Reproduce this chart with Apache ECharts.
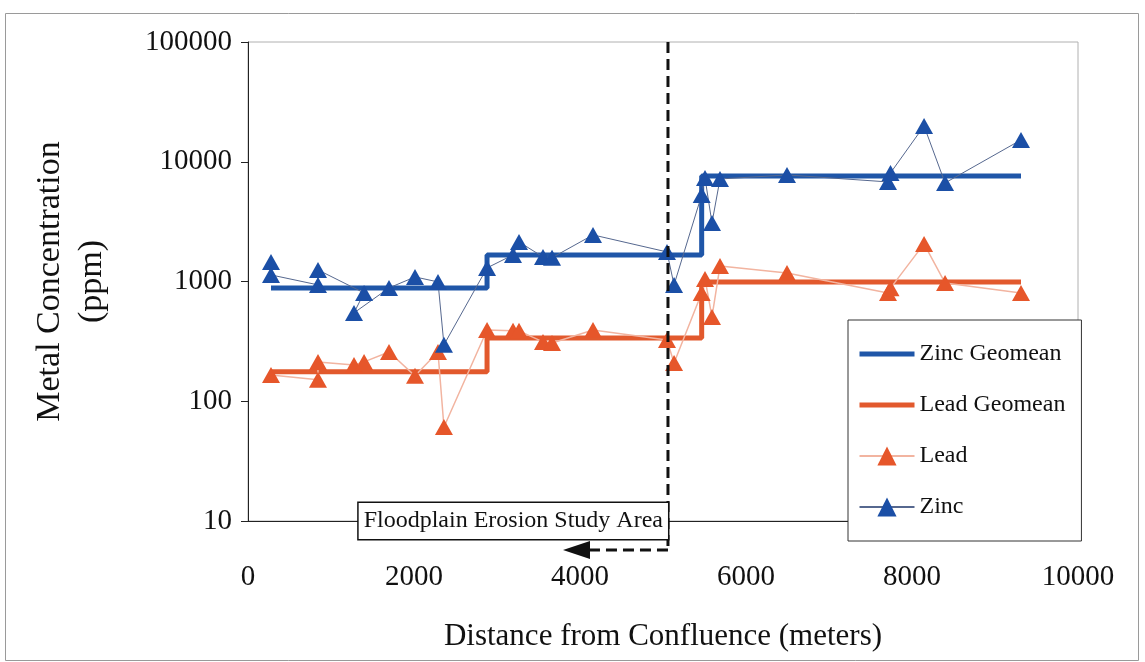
<!DOCTYPE html>
<html><head><meta charset="utf-8">
<script src="https://cdn.jsdelivr.net/npm/echarts@6/dist/echarts.min.js"></script>
<style>html,body{margin:0;padding:0;background:#fff}#c{width:1145px;height:662px}</style>
</head><body><div id="c"></div>
<script>
// ---- data (distance in meters, concentration in ppm) ----
const zincDist = [277, 277, 843, 843, 1398, 1277, 1699, 2012, 2289, 2361, 2880, 3193, 3265, 3554, 3663, 4157, 5048, 5133, 5466, 5506, 5590, 5687, 6494, 7711, 7741, 8145, 8398, 9313];
const zincPpm  = [1458, 1135, 937, 1250, 803, 547, 884, 1092, 992, 296, 1299, 1667, 2141, 1605, 1580, 2449, 1766, 937, 5284, 7323, 3084, 7183, 7760, 6783, 8064, 19900, 6653, 15205];
const leadDist = [277, 843, 843, 1277, 1398, 1699, 2012, 2289, 2361, 2880, 3193, 3265, 3554, 3663, 4157, 5048, 5133, 5466, 5506, 5590, 5687, 6494, 7711, 7741, 8145, 8398, 9313];
const leadPpm  = [166, 151, 213, 201, 213, 258, 163, 258, 61, 394, 387, 387, 313, 306, 394, 325, 209, 803, 1051, 506, 1350, 1180, 800, 880, 2060, 973, 803];
const geoDist    = [277, 2880, 2880, 5466, 5466, 9313];
const zincGeoPpm = [884, 884, 1667, 1667, 7610, 7610];
const leadGeoPpm = [176, 176, 338, 338, 992, 992];
const studyBoundary = 5060;
const xTicks = [0, 2000, 4000, 6000, 8000, 10000];
const yTickLabels = ['10', '100', '1000', '10000', '100000'];
const seriesNames = ['Zinc Geomean', 'Lead Geomean', 'Lead', 'Zinc'];
const annotationText = 'Floodplain Erosion Study Area';

const pair = (xs, ys) => xs.map((x, i) => [x, ys[i]]);
const FONT = '"Liberation Serif", "Times New Roman", serif';
const ZINC_GEO = '#1f56a8', LEAD_GEO = '#e2592d';

const chart = echarts.init(document.getElementById('c'), null, {renderer: 'canvas'});
chart.setOption({
  animation: false,
  backgroundColor: '#fff',
  grid: {left: 248, right: 67, top: 42, bottom: 141, show: true, borderColor: '#b0b0b0', borderWidth: 1},
  xAxis: {
    type: 'value', min: xTicks[0], max: xTicks[xTicks.length - 1], interval: 2000,
    axisLine: {onZero: false, lineStyle: {color: '#222', width: 1}},
    axisTick: {show: false},
    splitLine: {show: false},
    axisLabel: {margin: 42, color: '#111', fontFamily: FONT, fontSize: 29, formatter: v => String(v)},
    name: 'Distance from Confluence (meters)', nameLocation: 'middle', nameGap: 100,
    nameTextStyle: {color: '#111', fontFamily: FONT, fontSize: 31}
  },
  yAxis: {
    type: 'log', logBase: 10, min: 10, max: 100000,
    axisLine: {show: true, lineStyle: {color: '#222', width: 1}},
    axisTick: {show: true, length: 7, lineStyle: {color: '#222'}},
    minorTick: {show: false},
    splitLine: {show: false},
    axisLabel: {margin: 16, color: '#111', fontFamily: FONT, fontSize: 29,
      formatter: v => yTickLabels[Math.round(Math.log10(v)) - 1] || ''},
    name: 'Metal Concentration\n(ppm)', nameLocation: 'middle', nameRotate: 90, nameGap: 135,
    nameTextStyle: {color: '#111', fontFamily: FONT, fontSize: 34, lineHeight: 42}
  },
  legend: {
    data: [
      {name: seriesNames[0], itemStyle: {opacity: 0}, lineStyle: {width: 5, color: ZINC_GEO}},
      {name: seriesNames[1], itemStyle: {opacity: 0}, lineStyle: {width: 5, color: LEAD_GEO}},
      {name: seriesNames[2]},
      {name: seriesNames[3]}
    ],
    orient: 'vertical', left: 848, top: 320,
    itemWidth: 55, itemHeight: 24, itemGap: 27,
    padding: [22, 16, 22, 9],
    backgroundColor: '#fff', borderColor: '#333', borderWidth: 1, borderRadius: 0,
    textStyle: {color: '#111', fontFamily: FONT, fontSize: 24},
    z: 20
  },
  series: [
    {name: seriesNames[0], type: 'line', data: pair(geoDist, zincGeoPpm), symbol: 'none',
     lineStyle: {color: ZINC_GEO, width: 5}, itemStyle: {color: ZINC_GEO}, z: 2},
    {name: seriesNames[1], type: 'line', data: pair(geoDist, leadGeoPpm), symbol: 'none',
     lineStyle: {color: LEAD_GEO, width: 5}, itemStyle: {color: LEAD_GEO}, z: 2},
    {name: seriesNames[2], type: 'line', data: pair(leadDist, leadPpm), symbol: 'triangle', symbolSize: [18, 16],
     lineStyle: {color: '#f2b4a0', width: 1.5}, itemStyle: {color: '#e6562a'}, z: 3},
    {name: seriesNames[3], type: 'line', data: pair(zincDist, zincPpm), symbol: 'triangle', symbolSize: [18, 16],
     lineStyle: {color: '#56688f', width: 1}, itemStyle: {color: '#1b4fa6'}, z: 4}
  ]
});

const px = chart.convertToPixel({xAxisIndex: 0}, studyBoundary);
const yTop = chart.convertToPixel({yAxisIndex: 0}, 100000);
const yBot = chart.convertToPixel({yAxisIndex: 0}, 10);
const yArrow = yBot + 29;
chart.setOption({
  graphic: [
    {type: 'rect', z: 0, silent: true, shape: {x: 5.5, y: 13.5, width: 1133, height: 647},
     style: {fill: 'none', stroke: '#9a9a9a', lineWidth: 1}},
    {type: 'line', z: 50, silent: true, shape: {x1: px, y1: yTop, x2: px, y2: yArrow},
     style: {stroke: '#111', lineWidth: 3, lineDash: [11, 6]}},
    {type: 'line', z: 50, silent: true, shape: {x1: px, y1: yArrow, x2: px - 78, y2: yArrow},
     style: {stroke: '#111', lineWidth: 3, lineDash: [11, 6]}},
    {type: 'polygon', z: 50, silent: true, shape: {points: [[px - 105, yArrow], [px - 78, yArrow - 9], [px - 78, yArrow + 9]]},
     style: {fill: '#111'}},
    {type: 'text', z: 60, silent: true, x: px, y: yBot,
     style: {text: annotationText, align: 'right', verticalAlign: 'middle', fill: '#111',
       font: '24px ' + FONT, backgroundColor: '#fff', borderColor: '#111', borderWidth: 1.5,
       padding: [4, 5, 4, 5], lineHeight: 28}}
  ]
});
</script>
</body></html>
